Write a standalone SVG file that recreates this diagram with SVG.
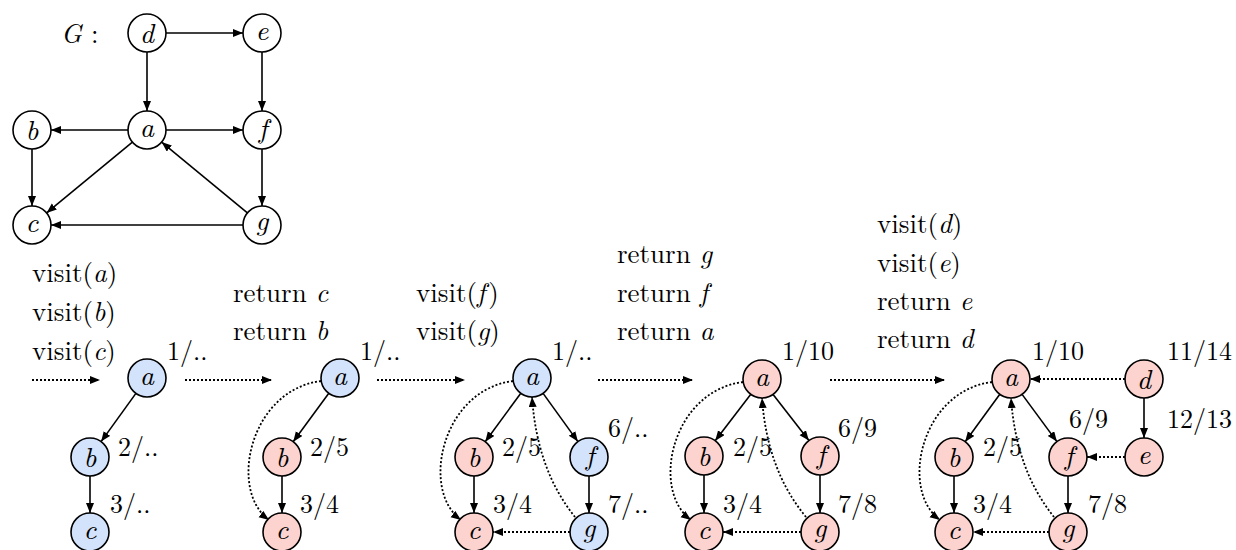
<svg xmlns="http://www.w3.org/2000/svg" width="1236" height="550" viewBox="0 0 1236 550">
<style>
  circle{stroke:#000;stroke-width:1.6}
  .w{fill:#fff}.bl{fill:#d4e3fc}.pk{fill:#fcd3cf}
  text{font-size:27px;fill:#000}
  .n{font-size:26px}
  .v{font-size:28px;font-style:italic;text-anchor:middle}
  .it{font-style:italic}
  .s{fill:none;stroke:#000;stroke-width:1.6;marker-end:url(#ah)}
  .d{fill:none;stroke:#000;stroke-width:1.8;stroke-dasharray:2 2;marker-end:url(#ah)}
</style>
<defs>
  <marker id="ah" markerUnits="userSpaceOnUse" markerWidth="11" markerHeight="9" refX="10" refY="4" orient="auto">
    <path d="M0,0 L10,4 L0,8 z" fill="#000"/>
  </marker>
</defs>
<g font-family="Latin Modern Roman, serif">

<text x="61" y="43"><tspan class="it">G</tspan> :</text>
<g id="connectors">
  <line class="s" x1="166" y1="33" x2="243" y2="33"/>
  <line class="s" x1="147" y1="52" x2="147" y2="111"/>
  <line class="s" x1="262" y1="52" x2="262" y2="111"/>
  <line class="s" x1="128" y1="130" x2="51" y2="130"/>
  <line class="s" x1="166" y1="130" x2="243" y2="130"/>
  <line class="s" x1="32" y1="149" x2="32" y2="206"/>
  <line class="s" x1="132.4" y1="142.1" x2="46.6" y2="212.9"/>
  <line class="s" x1="247.4" y1="212.9" x2="161.6" y2="142.1"/>
  <line class="s" x1="262" y1="149" x2="262" y2="206"/>
  <line class="s" x1="243" y1="225" x2="51" y2="225"/>

  <line class="d" x1="32" y1="380" x2="100" y2="380"/>
  <line class="s" x1="135.9" y1="393.4" x2="101.1" y2="441.6"/>
  <line class="s" x1="90" y1="476" x2="90" y2="513"/>

  <line class="d" x1="185" y1="380" x2="272" y2="380"/>
  <line class="s" x1="328.8" y1="393.3" x2="293.2" y2="441.7"/>
  <line class="s" x1="282" y1="476" x2="282" y2="513"/>
  <path class="d" d="M321,381 C250,390 228,490 269,520"/>

  <line class="d" x1="377" y1="380" x2="465" y2="380"/>
  <line class="s" x1="520.8" y1="393.3" x2="485.2" y2="441.7"/>
  <line class="s" x1="543.1" y1="393.4" x2="577.9" y2="441.6"/>
  <line class="s" x1="474" y1="476" x2="474" y2="513"/>
  <line class="s" x1="589" y1="476" x2="589" y2="513"/>
  <line class="d" x1="570" y1="532" x2="493" y2="532"/>
  <path class="d" d="M575,517 Q537,470 532,397"/>
  <path class="d" d="M513,381 C442,390 420,490 461,520"/>

  <line class="d" x1="598" y1="380" x2="693" y2="380"/>
  <line class="s" x1="750.8" y1="394.3" x2="715.2" y2="440.7"/>
  <line class="s" x1="773.1" y1="394.4" x2="808.9" y2="440.6"/>
  <line class="s" x1="704" y1="475" x2="704" y2="513"/>
  <line class="s" x1="820" y1="475" x2="820" y2="513"/>
  <line class="d" x1="801" y1="532" x2="723" y2="532"/>
  <path class="d" d="M806,517 Q767,470 762,398"/>
  <path class="d" d="M743,382 C672,391 650,490 691,520"/>

  <line class="d" x1="830" y1="380" x2="945" y2="380"/>
  <line class="s" x1="999.8" y1="394.3" x2="965.2" y2="441.7"/>
  <line class="s" x1="1022.1" y1="394.4" x2="1056.9" y2="441.6"/>
  <line class="s" x1="954" y1="476" x2="954" y2="513"/>
  <line class="s" x1="1068" y1="476" x2="1068" y2="513"/>
  <line class="d" x1="1049" y1="532" x2="973" y2="532"/>
  <path class="d" d="M1054,517 Q1016,470 1011,398"/>
  <path class="d" d="M992,382 C921,391 899,490 940,520"/>
  <line class="d" x1="1125" y1="379" x2="1030" y2="379"/>
  <line class="s" x1="1144" y1="398" x2="1144" y2="438"/>
  <line class="d" x1="1125" y1="457" x2="1087" y2="457"/>
</g>

<g id="G-d"><circle class="w" cx="147" cy="33" r="19"/><text class="v" x="147" y="42.5">d</text></g>
<g id="G-e"><circle class="w" cx="262" cy="33" r="19"/><text class="v" x="262" y="39.5">e</text></g>
<g id="G-b"><circle class="w" cx="32" cy="130" r="19"/><text class="v" x="32" y="139.5">b</text></g>
<g id="G-a"><circle class="w" cx="147" cy="130" r="19"/><text class="v" x="147" y="136.5">a</text></g>
<g id="G-f"><circle class="w" cx="262" cy="130" r="19"/><text class="v" x="263" y="137.5">f</text></g>
<g id="G-c"><circle class="w" cx="32" cy="225" r="19"/><text class="v" x="32" y="231.5">c</text></g>
<g id="G-g"><circle class="w" cx="262" cy="225" r="19"/><text class="v" x="262" y="229.5">g</text></g>

<text x="32" y="282">visit(<tspan class="it">a</tspan>)</text>
<text x="32" y="321">visit(<tspan class="it">b</tspan>)</text>
<text x="32" y="360">visit(<tspan class="it">c</tspan>)</text>
<g id="s1-a"><circle class="bl" cx="147" cy="378" r="19"/><text class="v" x="147" y="384.5">a</text></g>
<g id="s1-b"><circle class="bl" cx="90" cy="457" r="19"/><text class="v" x="90" y="466.5">b</text></g>
<g id="s1-c"><circle class="bl" cx="90" cy="532" r="19"/><text class="v" x="90" y="538.5">c</text></g>
<text class="n" x="167" y="360">1/..</text>
<text class="n" x="118" y="456">2/..</text>
<text class="n" x="110" y="513">3/..</text>

<text x="233" y="302">return <tspan class="it">c</tspan></text>
<text x="233" y="340">return <tspan class="it">b</tspan></text>
<g id="s2-a"><circle class="bl" cx="340" cy="378" r="19"/><text class="v" x="340" y="384.5">a</text></g>
<g id="s2-b"><circle class="pk" cx="282" cy="457" r="19"/><text class="v" x="282" y="466.5">b</text></g>
<g id="s2-c"><circle class="pk" cx="282" cy="532" r="19"/><text class="v" x="282" y="538.5">c</text></g>
<text class="n" x="360" y="360">1/..</text>
<text class="n" x="310" y="456">2/5</text>
<text class="n" x="300" y="513">3/4</text>

<text x="416" y="302">visit(<tspan class="it">f</tspan><tspan dx="3">)</tspan></text>
<text x="416" y="340">visit(<tspan class="it">g</tspan>)</text>
<g id="s3-a"><circle class="bl" cx="532" cy="378" r="19"/><text class="v" x="532" y="384.5">a</text></g>
<g id="s3-b"><circle class="pk" cx="474" cy="457" r="19"/><text class="v" x="474" y="466.5">b</text></g>
<g id="s3-f"><circle class="bl" cx="589" cy="457" r="19"/><text class="v" x="590" y="464.5">f</text></g>
<g id="s3-c"><circle class="pk" cx="474" cy="532" r="19"/><text class="v" x="474" y="538.5">c</text></g>
<g id="s3-g"><circle class="bl" cx="589" cy="532" r="19"/><text class="v" x="589" y="536.5">g</text></g>
<text class="n" x="552" y="360">1/..</text>
<text class="n" x="502" y="456">2/5</text>
<text class="n" x="608" y="437">6/..</text>
<text class="n" x="493" y="513">3/4</text>
<text class="n" x="608" y="513">7/..</text>

<text x="617" y="263">return <tspan class="it">g</tspan></text>
<text x="617" y="302">return <tspan class="it">f</tspan></text>
<text x="617" y="340">return <tspan class="it">a</tspan></text>
<g id="s4-a"><circle class="pk" cx="762" cy="379" r="19"/><text class="v" x="762" y="385.5">a</text></g>
<g id="s4-b"><circle class="pk" cx="704" cy="456" r="19"/><text class="v" x="704" y="465.5">b</text></g>
<g id="s4-f"><circle class="pk" cx="820" cy="456" r="19"/><text class="v" x="821" y="463.5">f</text></g>
<g id="s4-c"><circle class="pk" cx="704" cy="532" r="19"/><text class="v" x="704" y="538.5">c</text></g>
<g id="s4-g"><circle class="pk" cx="820" cy="532" r="19"/><text class="v" x="820" y="536.5">g</text></g>
<text class="n" x="782" y="360">1/10</text>
<text class="n" x="733" y="456">2/5</text>
<text class="n" x="838" y="437">6/9</text>
<text class="n" x="723" y="513">3/4</text>
<text class="n" x="838" y="513">7/8</text>

<text x="877" y="233">visit(<tspan class="it">d</tspan>)</text>
<text x="877" y="272">visit(<tspan class="it">e</tspan>)</text>
<text x="877" y="310">return <tspan class="it">e</tspan></text>
<text x="877" y="348">return <tspan class="it">d</tspan></text>
<g id="s5-a"><circle class="pk" cx="1011" cy="379" r="19"/><text class="v" x="1011" y="385.5">a</text></g>
<g id="s5-b"><circle class="pk" cx="954" cy="457" r="19"/><text class="v" x="954" y="466.5">b</text></g>
<g id="s5-f"><circle class="pk" cx="1068" cy="457" r="19"/><text class="v" x="1069" y="464.5">f</text></g>
<g id="s5-c"><circle class="pk" cx="954" cy="532" r="19"/><text class="v" x="954" y="538.5">c</text></g>
<g id="s5-g"><circle class="pk" cx="1068" cy="532" r="19"/><text class="v" x="1068" y="536.5">g</text></g>
<g id="s5-d"><circle class="pk" cx="1144" cy="379" r="19"/><text class="v" x="1144" y="388.5">d</text></g>
<g id="s5-e"><circle class="pk" cx="1144" cy="457" r="19"/><text class="v" x="1144" y="463.5">e</text></g>
<text class="n" x="1032" y="360">1/10</text>
<text class="n" x="1167" y="360">11/14</text>
<text class="n" x="1069" y="428">6/9</text>
<text class="n" x="1167" y="428">12/13</text>
<text class="n" x="983" y="456">2/5</text>
<text class="n" x="973" y="513">3/4</text>
<text class="n" x="1088" y="513">7/8</text>
</g>
</svg>
